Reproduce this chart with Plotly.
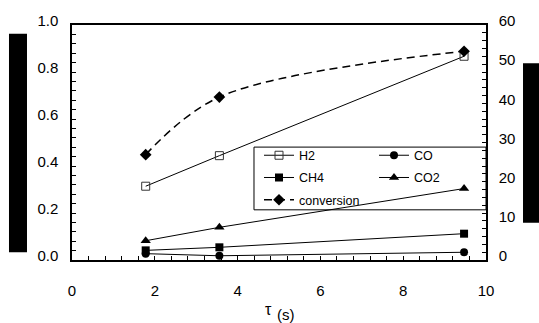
import plotly.graph_objects as go

# ---- data ----
tau = [1.78, 3.56, 9.47]
h2 = [0.314, 0.444, 0.867]
co = [0.027, 0.018, 0.033]
ch4 = [0.041, 0.054, 0.112]
co2 = [0.082, 0.139, 0.304]
conversion = [26.9, 41.6, 53.3]

x_ticks = [0, 2, 4, 6, 8, 10]
y_ticks = [0.0, 0.2, 0.4, 0.6, 0.8, 1.0]
y2_ticks = [0, 10, 20, 30, 40, 50, 60]

FONT = "Arial, Liberation Sans, sans-serif"
BLACK = "black"

fig = go.Figure()

line = dict(color=BLACK, width=1)

fig.add_trace(go.Scatter(x=tau, y=h2, name="H2", mode="lines+markers", line=line,
                         marker=dict(symbol="square-open", size=8, color="#333333",
                                     line=dict(width=1)),
                         legend="legend", legendgroup="a"))
fig.add_trace(go.Scatter(x=tau, y=co, name="CO", mode="lines+markers", line=line,
                         marker=dict(symbol="circle", size=8, color=BLACK),
                         legend="legend2", legendgroup="b"))
fig.add_trace(go.Scatter(x=tau, y=ch4, name="CH4", mode="lines+markers", line=line,
                         marker=dict(symbol="square", size=8, color=BLACK),
                         legend="legend", legendgroup="c"))
fig.add_trace(go.Scatter(x=tau, y=co2, name="CO2", mode="lines+markers", line=line,
                         marker=dict(symbol="triangle-up", size=9, color=BLACK),
                         legend="legend2", legendgroup="d"))
fig.add_trace(go.Scatter(x=tau, y=conversion, name="conversion", mode="lines+markers",
                         yaxis="y2",
                         line=dict(color=BLACK, width=1.5, dash="8px,5px", shape="spline"),
                         marker=dict(symbol="diamond", size=9, color=BLACK),
                         legend="legend", legendgroup="e"))

legend_common = dict(
    font=dict(family=FONT, size=12.5, color=BLACK),
    bgcolor="rgba(0,0,0,0)",
    borderwidth=0,
    orientation="v",
    yanchor="top",
    xanchor="left",
    tracegroupgap=3,
    itemclick=False,
)

fig.update_layout(
    width=539, height=323,
    margin=dict(l=72, r=53, t=15, b=63),
    paper_bgcolor="white",
    plot_bgcolor="white",
    font=dict(family=FONT, color=BLACK),
    showlegend=True,
    legend=dict(x=0.4517, y=0.508, **legend_common),
    legend2=dict(x=0.7295, y=0.508, **legend_common),
    xaxis=dict(
        range=[0, 10], tickvals=x_ticks, ticktext=[str(v) for v in x_ticks],
        showline=True, linecolor=BLACK, linewidth=1.5, mirror=True,
        ticks="inside", ticklen=4, tickcolor=BLACK, tickwidth=1,
        minor=dict(dtick=0.4, ticks="inside", ticklen=4, tickcolor=BLACK, tickwidth=1),
        showgrid=False, zeroline=False,
        tickfont=dict(family=FONT, size=15, color=BLACK),
        ticklabelstandoff=16,
    ),
    yaxis=dict(
        range=[0, 1], tickvals=y_ticks, ticktext=[f"{v:.1f}" for v in y_ticks],
        showline=True, linecolor=BLACK, linewidth=1.5, mirror=True,
        ticks="inside", ticklen=4, tickcolor=BLACK, tickwidth=1,
        minor=dict(dtick=0.04, ticks="inside", ticklen=4, tickcolor=BLACK, tickwidth=1),
        showgrid=False, zeroline=False,
        tickfont=dict(family=FONT, size=15, color=BLACK),
        ticklabelstandoff=9, ticklabelshift=-4,
    ),
    yaxis2=dict(
        range=[0, 60], tickvals=y2_ticks, ticktext=[str(v) for v in y2_ticks],
        overlaying="y", side="right",
        showline=True, linecolor=BLACK, linewidth=1.5,
        ticks="inside", ticklen=4, tickcolor=BLACK, tickwidth=1,
        minor=dict(dtick=2, ticks="inside", ticklen=4, tickcolor=BLACK, tickwidth=1),
        showgrid=False, zeroline=False,
        tickfont=dict(family=FONT, size=15, color=BLACK),
        ticklabelstandoff=8, ticklabelshift=-4,
    ),
    shapes=[
        # legend frame
        dict(type="rect", xref="paper", yref="paper", x0=0.4396, x1=1.0, y0=0.2135, y1=0.4804,
             line=dict(color=BLACK, width=1), fillcolor="rgba(0,0,0,0)", layer="above"),
        # black redaction bars (axis titles)
        dict(type="rect", xref="paper", yref="paper", x0=-0.1522, x1=-0.1087, y0=0.0327, y1=0.963,
             line=dict(width=0), fillcolor=BLACK),
        dict(type="rect", xref="paper", yref="paper", x0=1.0894, x1=1.13, y0=0.159, y1=0.837,
             line=dict(width=0), fillcolor=BLACK),
    ],
    annotations=[
        dict(text="τ", xref="paper", yref="paper", x=0.4746, y=-0.212, showarrow=False,
             xanchor="center", yanchor="middle", font=dict(family=FONT, size=16, color=BLACK)),
        dict(text="(s)", xref="paper", yref="paper", x=0.517, y=-0.233, showarrow=False,
             xanchor="center", yanchor="middle", font=dict(family=FONT, size=15, color=BLACK)),
    ],
)

fig.write_html("out.html",
               config={"displayModeBar": False},
               post_script="document.body.style.margin='0px';document.body.style.overflow='hidden';")
